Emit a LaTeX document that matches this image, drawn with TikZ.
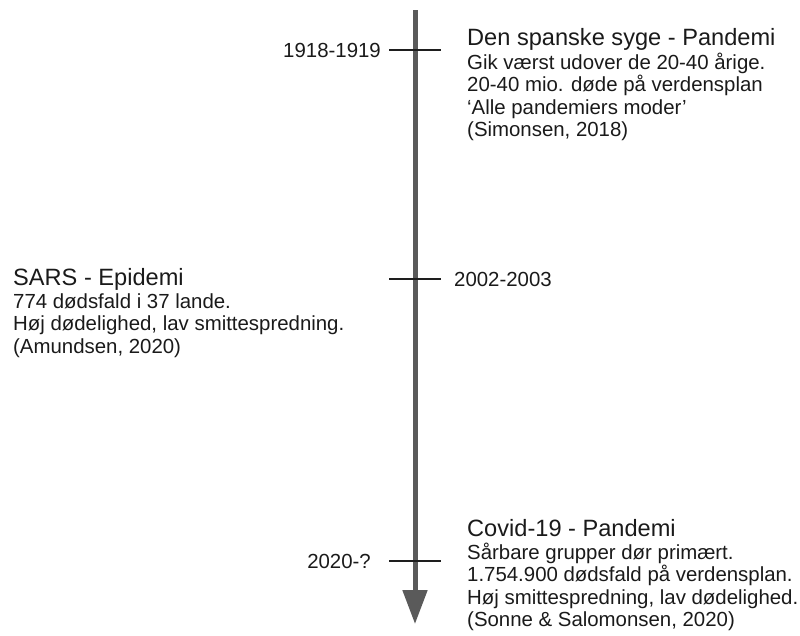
\documentclass[tikz,border=0pt]{standalone}
\usepackage{fontspec}
\setmainfont{Liberation Sans}
\usepackage{tikz}
\usetikzlibrary{arrows.meta,positioning}

\definecolor{axisgray}{HTML}{5A5A5A}
\definecolor{tickgray}{HTML}{1E1E1E}
\definecolor{textgray}{HTML}{1A1A1A}

\tikzset{
  axis/.style={line width=5pt,draw=axisgray,-{Triangle[width=24pt,length=34pt]}},
  tick/.style={line width=2.5pt,draw=tickgray},
  year/.style={font=\fontsize{20.4}{23}\selectfont,text=textgray,inner sep=0pt},
  title/.style={font=\fontsize{23.6}{28}\selectfont,text=textgray,inner sep=0pt,anchor=base west},
  body/.style={font=\fontsize{20.4}{22.6}\selectfont,text=textgray,inner sep=0pt,align=left,anchor=base west}
}

\begin{document}
\begin{tikzpicture}[x=1pt,y=-1pt]
  \useasboundingbox (0,0) rectangle (800,635);

  % timeline
  \coordinate (top) at (415,10);
  \coordinate (bottom) at (415,624);
  \draw[axis] (top) -- (bottom);

  \coordinate (t1) at (415,50);
  \coordinate (t2) at (415,279);
  \coordinate (t3) at (415,561);
  \foreach \t in {t1,t2,t3}
    \draw[tick] ([xshift=-26pt]\t) -- ([xshift=26pt]\t);

  % years
  \node[year,left=34pt of t1] (y1) {1918-1919};
  \node[year,right=39pt of t2] (y2) {2002-2003};
  \node[year,left=44pt of t3] (y3) {2020-?};

  % events (body anchored on its last baseline)
  \node[title] (spansk) at (467,45) {Den spanske syge - Pandemi};
  \node[body] (spanskbody) at ([yshift=-91.8pt]spansk.base west)
    {Gik værst udover de 20-40 årige.\\20-40 mio. døde på verdensplan\\‘Alle pandemiers moder’\\(Simonsen, 2018)};

  \node[title] (sars) at (13,285) {SARS - Epidemi};
  \node[body] (sarsbody) at ([yshift=-68.2pt]sars.base west)
    {774 dødsfald i 37 lande.\\Høj dødelighed, lav smittespredning.\\(Amundsen, 2020)};

  \node[title] (covid) at (467,536) {Covid-19 - Pandemi};
  \node[body] (covidbody) at ([yshift=-90.8pt]covid.base west)
    {Sårbare grupper dør primært.\\1.754.900 dødsfald på verdensplan.\\Høj smittespredning, lav dødelighed.\\(Sonne \& Salomonsen, 2020)};
\end{tikzpicture}
\end{document}
